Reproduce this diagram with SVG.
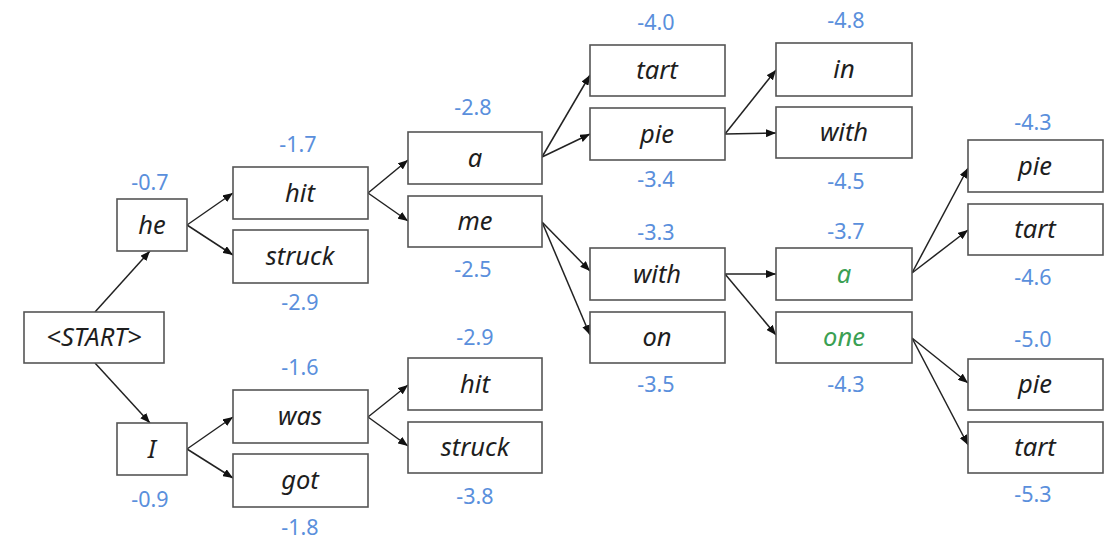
<svg xmlns="http://www.w3.org/2000/svg" width="1109" height="542" viewBox="0 0 1109 542">
<style>
.box{fill:#fff;stroke:#555;stroke-width:1.6}
.w{font-family:"Noto Sans","Open Sans",sans-serif;font-style:italic;font-size:25.5px;fill:#1e1e1e;text-anchor:middle}
.g{fill:#3aa053}
.s{font-family:"Noto Sans","Open Sans",sans-serif;font-size:21.5px;fill:#5a8fdc;text-anchor:middle}
.c line{stroke:#222;stroke-width:1.5;marker-end:url(#ah)}
</style>
<defs>
<marker id="ah" markerUnits="userSpaceOnUse" markerWidth="10" markerHeight="8" refX="10" refY="4" orient="auto">
<path d="M0,0 L10,4 L0,8 z" fill="#111"/>
</marker>
</defs>
<rect width="1109" height="542" fill="#fff"/>
<g class="c" id="connectors">
<line x1="95" y1="312" x2="150" y2="251"/>
<line x1="95" y1="363" x2="150" y2="423"/>
<line x1="187" y1="225" x2="233" y2="193"/>
<line x1="187" y1="225" x2="233" y2="255"/>
<line x1="187" y1="449" x2="233" y2="417"/>
<line x1="187" y1="449" x2="233" y2="478"/>
<line x1="368" y1="193" x2="408" y2="160"/>
<line x1="368" y1="193" x2="408" y2="221"/>
<line x1="368" y1="417" x2="408" y2="385"/>
<line x1="368" y1="417" x2="408" y2="446"/>
<line x1="542" y1="157" x2="590" y2="75"/>
<line x1="542" y1="157" x2="590" y2="134"/>
<line x1="542" y1="222" x2="590" y2="271"/>
<line x1="542" y1="222" x2="590" y2="335"/>
<line x1="725" y1="134" x2="776" y2="70"/>
<line x1="725" y1="134" x2="776" y2="133"/>
<line x1="725" y1="274" x2="776" y2="274"/>
<line x1="725" y1="274" x2="776" y2="335"/>
<line x1="912" y1="273" x2="968" y2="168"/>
<line x1="912" y1="273" x2="968" y2="230"/>
<line x1="912" y1="338" x2="968" y2="383"/>
<line x1="912" y1="338" x2="968" y2="445"/>
</g>
<g id="n-start"><rect class="box" x="24" y="312" width="140" height="51"/><text class="w" x="94" y="346">&lt;START&gt;</text></g>
<g id="n-he"><rect class="box" x="117" y="199" width="70" height="52"/><text class="w" x="152" y="234">he</text><text class="s" x="150" y="190">-0.7</text></g>
<g id="n-I"><rect class="box" x="117" y="423" width="70" height="52"/><text class="w" x="152" y="458">I</text><text class="s" x="150" y="507">-0.9</text></g>
<g id="n-hit1"><rect class="box" x="233" y="167" width="135" height="52"/><text class="w" x="300" y="202">hit</text><text class="s" x="298" y="152">-1.7</text></g>
<g id="n-struck1"><rect class="box" x="233" y="230" width="135" height="53"/><text class="w" x="300" y="265">struck</text><text class="s" x="300" y="310">-2.9</text></g>
<g id="n-was"><rect class="box" x="233" y="390" width="135" height="53"/><text class="w" x="300" y="425">was</text><text class="s" x="300" y="375">-1.6</text></g>
<g id="n-got"><rect class="box" x="233" y="454" width="135" height="53"/><text class="w" x="300" y="489">got</text><text class="s" x="300" y="535">-1.8</text></g>
<g id="n-a1"><rect class="box" x="408" y="132" width="134" height="52"/><text class="w" x="475" y="167">a</text><text class="s" x="473" y="115">-2.8</text></g>
<g id="n-me"><rect class="box" x="408" y="196" width="134" height="51"/><text class="w" x="475" y="230">me</text><text class="s" x="473" y="277">-2.5</text></g>
<g id="n-hit2"><rect class="box" x="408" y="358" width="134" height="52"/><text class="w" x="475" y="393">hit</text><text class="s" x="475" y="345">-2.9</text></g>
<g id="n-struck2"><rect class="box" x="408" y="422" width="134" height="51"/><text class="w" x="475" y="456">struck</text><text class="s" x="475" y="504">-3.8</text></g>
<g id="n-tart1"><rect class="box" x="590" y="45" width="135" height="51"/><text class="w" x="657" y="79">tart</text><text class="s" x="656" y="30">-4.0</text></g>
<g id="n-pie1"><rect class="box" x="590" y="108" width="135" height="52"/><text class="w" x="657" y="143">pie</text><text class="s" x="656" y="187">-3.4</text></g>
<g id="n-with1"><rect class="box" x="590" y="248" width="135" height="52"/><text class="w" x="657" y="283">with</text><text class="s" x="656" y="240">-3.3</text></g>
<g id="n-on"><rect class="box" x="590" y="312" width="135" height="51"/><text class="w" x="657" y="346">on</text><text class="s" x="656" y="392">-3.5</text></g>
<g id="n-in"><rect class="box" x="776" y="43" width="136" height="53"/><text class="w" x="844" y="78">in</text><text class="s" x="846" y="28">-4.8</text></g>
<g id="n-with2"><rect class="box" x="776" y="107" width="136" height="51"/><text class="w" x="844" y="141">with</text><text class="s" x="846" y="189">-4.5</text></g>
<g id="n-a2"><rect class="box" x="776" y="248" width="136" height="52"/><text class="w g" x="844" y="283">a</text><text class="s" x="846" y="239">-3.7</text></g>
<g id="n-one"><rect class="box" x="776" y="312" width="136" height="51"/><text class="w g" x="844" y="346">one</text><text class="s" x="846" y="392">-4.3</text></g>
<g id="n-pie2"><rect class="box" x="968" y="140" width="135" height="52"/><text class="w" x="1035" y="175">pie</text><text class="s" x="1033" y="130">-4.3</text></g>
<g id="n-tart2"><rect class="box" x="968" y="204" width="135" height="51"/><text class="w" x="1035" y="238">tart</text><text class="s" x="1033" y="285">-4.6</text></g>
<g id="n-pie3"><rect class="box" x="968" y="359" width="135" height="51"/><text class="w" x="1035" y="393">pie</text><text class="s" x="1033" y="347">-5.0</text></g>
<g id="n-tart3"><rect class="box" x="968" y="422" width="135" height="51"/><text class="w" x="1035" y="456">tart</text><text class="s" x="1033" y="502">-5.3</text></g>
</svg>
